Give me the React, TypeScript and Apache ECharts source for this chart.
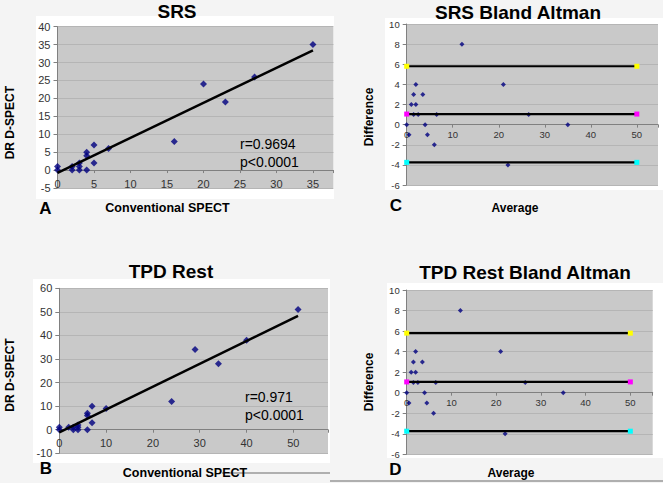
import React, { useEffect, useRef } from "react";
import * as echarts from "echarts";

// ---- data ----
const srsConv = [0, 0, 2, 2, 3, 3, 3, 4, 4, 4, 5, 5, 7, 16, 20, 23, 27, 35];
const srsDR = [1, 0, 0, 1, 0, 1, 2, 0, 4, 5, 7, 2, 6, 8, 24, 19, 26, 35];
const srsFitX = [0, 35];
const srsFitY = [-0.75, 33.4];

const tpdConv = [0, 0, 2, 3, 3, 4, 4, 4, 6, 6, 6, 7, 7, 10, 24, 29, 34, 40, 51];
const tpdDR = [0, 1, 1, 0, 1, 0, 1, 2, 0, 6, 7, 3, 10, 9, 12, 34, 28, 38, 51];
const tpdFitX = [0, 51];
const tpdFitY = [-1.1, 48.3];

const baAverage = [12, 2, 1.5, 3.5, 1, 2, 1.5, 2.5, 6.5, 0, 4, 0.5, 4.5, 6, 21, 26.5, 35, 22];
const baDifference = [8, 4, 3, 3, 2, 2, 1, 1, 1, 0, 0, -1, -1, -2, 4, 1, 0, -4];
const baLineX = [0, 50];
const baUpper = 5.8;
const baMean = 1.05;
const baLower = -3.75;

const srsStats = ["r=0.9694", "p<0.0001"];
const tpdStats = ["r=0.971", "p<0.0001"];

const FONT = 'Arial, "Liberation Sans", Helvetica, sans-serif';
const NAVY = "#000080";

const zip = (a: number[], b: number[]) => a.map((v, i) => [v, b[i]]);

function txt(
  x: number,
  y: number,
  s: string,
  size: number,
  bold: boolean,
  align: string = "center",
  rotate = 0
) {
  return {
    type: "text",
    x,
    y,
    rotation: rotate,
    z: 10,
    style: {
      text: s,
      x: 0,
      y: 0,
      font: `${bold ? "bold " : ""}${size}px ${FONT}`,
      fill: "#000",
      textAlign: align,
      align,
      textVerticalAlign: "middle",
      verticalAlign: "middle",
    },
  };
}

function rect(x: number, y: number, w: number, h: number, fill: string) {
  return { type: "rect", z: -10, shape: { x, y, width: w, height: h }, style: { fill } };
}

// grids: [left, top, width, height]
const grids = [
  [57.5, 26.7, 275.9, 161.3],
  [59.3, 288.3, 268.7, 165],
  [406.7, 24, 251.3, 161],
  [406.7, 290, 246, 164.3],
];
const yRanges = [
  [-5, 40, 5],
  [-10, 60, 10],
  [-6, 10, 2],
  [-6, 10, 2],
];

function xAxisOf(grid: number, max: number, step: number, size: number, margin: number) {
  const [ymin, ymax] = yRanges[grid];
  const h = grids[grid][3];
  const off = -h * (0 - ymin) / (ymax - ymin); // move the axis up to the y = 0 line
  return {
    type: "value",
    gridIndex: grid,
    min: 0,
    max,
    interval: step,
    position: "bottom",
    offset: off,
    axisLine: { show: true, onZero: false, lineStyle: { color: "#808080", width: 1 } },
    axisTick: { show: true, inside: false, length: 3, lineStyle: { color: "#808080" } },
    axisLabel: {
      fontSize: size,
      fontFamily: FONT,
      color: "#333",
      margin,
      formatter: (v: number) => (Math.abs(v % step) < 1e-9 ? String(v) : ""),
    },
    splitLine: { show: false },
  };
}

function yAxisOf(grid: number, size: number, margin: number) {
  const [min, max, step] = yRanges[grid];
  return {
    type: "value",
    gridIndex: grid,
    min,
    max,
    interval: step,
    axisLine: { show: true, onZero: false, lineStyle: { color: "#808080", width: 1 } },
    axisTick: { show: true, length: 4, lineStyle: { color: "#808080" } },
    axisLabel: { fontSize: size, fontFamily: FONT, color: "#333", margin },
    splitLine: { show: true, lineStyle: { color: "#b5b5b5", width: 1 } },
  };
}

function scatter(idx: number, data: number[][], size: number) {
  return {
    type: "scatter",
    xAxisIndex: idx,
    yAxisIndex: idx,
    data,
    symbol: "diamond",
    symbolSize: size,
    itemStyle: { color: NAVY },
    z: 3,
  };
}

function fitLine(idx: number, xs: number[], ys: number[]) {
  return {
    type: "line",
    xAxisIndex: idx,
    yAxisIndex: idx,
    data: zip(xs, ys),
    showSymbol: false,
    symbol: "none",
    lineStyle: { color: "#000", width: 2.5 },
    z: 4,
  };
}

function limitLine(idx: number, v: number, end: string) {
  return {
    type: "line",
    xAxisIndex: idx,
    yAxisIndex: idx,
    data: baLineX.map((x) => [x, v]),
    showSymbol: true,
    symbol: "rect",
    symbolSize: 5,
    itemStyle: { color: end },
    lineStyle: { color: "#000", width: 2.2 },
    z: 4,
  };
}

export default function App() {
  const ref = useRef<HTMLDivElement>(null);

  useEffect(() => {
    if (!ref.current) return;
    const chart = echarts.init(ref.current, undefined, { renderer: "svg" });
    const plotBg = "#c9c9c9";
    const option: any = {
      animation: false,
      backgroundColor: "#f4f4f4",
      grid: grids.map(([left, top, width, height]) => ({
        left,
        top,
        width,
        height,
        show: true,
        backgroundColor: plotBg,
        borderWidth: 0,
      })),
      xAxis: [
        xAxisOf(0, 37.8, 5, 11, 8),
        xAxisOf(1, 57.4, 10, 11, 8),
        xAxisOf(2, 54.6, 10, 9.5, 5),
        xAxisOf(3, 55, 10, 9.5, 5),
      ],
      yAxis: [yAxisOf(0, 11, 7), yAxisOf(1, 11, 7), yAxisOf(2, 9.5, 7), yAxisOf(3, 9.5, 7)],
      series: [
        scatter(0, zip(srsConv, srsDR), 7),
        fitLine(0, srsFitX, srsFitY),
        scatter(1, zip(tpdConv, tpdDR), 7),
        fitLine(1, tpdFitX, tpdFitY),
        scatter(2, zip(baAverage, baDifference), 5),
        limitLine(2, baUpper, "#ffff00"),
        limitLine(2, baMean, "#ff00ff"),
        limitLine(2, baLower, "#00ffff"),
        scatter(3, zip(baAverage, baDifference), 5),
        limitLine(3, baUpper, "#ffff00"),
        limitLine(3, baMean, "#ff00ff"),
        limitLine(3, baLower, "#00ffff"),
      ],
      graphic: [
        rect(36, 16, 298, 183, "#ffffff"),
        rect(385, 18, 278, 172, "#ffffff"),
        rect(33, 279, 297, 184, "#ffffff"),
        rect(387, 283, 276, 175, "#ffffff"),
        { type: "line", z: 10, shape: { x1: 222, y1: 473, x2: 330, y2: 473 }, style: { stroke: "#999", lineWidth: 1.5 } },
        { type: "line", z: 10, shape: { x1: 330, y1: 481, x2: 663, y2: 481 }, style: { stroke: "#999", lineWidth: 1.5 } },
        txt(177, 11, "SRS", 19, true),
        txt(518, 12, "SRS Bland Altman", 19, true),
        txt(171, 271, "TPD Rest", 19, true),
        txt(525, 272, "TPD Rest Bland Altman", 19, true),
        txt(10, 122.7, "DR D-SPECT", 12, true, "center", Math.PI / 2),
        txt(10, 375, "DR D-SPECT", 12, true, "center", Math.PI / 2),
        txt(369, 117, "Difference", 12, true, "center", Math.PI / 2),
        txt(369, 382, "Difference", 12, true, "center", Math.PI / 2),
        txt(167.5, 207.7, "Conventional SPECT", 12.5, true),
        txt(185, 473.3, "Conventional SPECT", 12.5, true),
        txt(515, 207.7, "Average", 12, true),
        txt(511, 473.3, "Average", 12, true),
        txt(45.5, 208, "A", 17, true),
        txt(46, 468, "B", 17, true),
        txt(396, 205, "C", 17, true),
        txt(395.5, 469, "D", 17, true),
        txt(240, 144, srsStats[0], 14, false, "left"),
        txt(240, 162, srsStats[1], 14, false, "left"),
        txt(245, 396.7, tpdStats[0], 14, false, "left"),
        txt(245, 415, tpdStats[1], 14, false, "left"),
      ],
    };
    chart.setOption(option);
    return () => chart.dispose();
  }, []);

  return (
    <div
      ref={ref}
      style={{ position: "fixed", left: 0, top: 0, width: 663, height: 483 }}
    />
  );
}
